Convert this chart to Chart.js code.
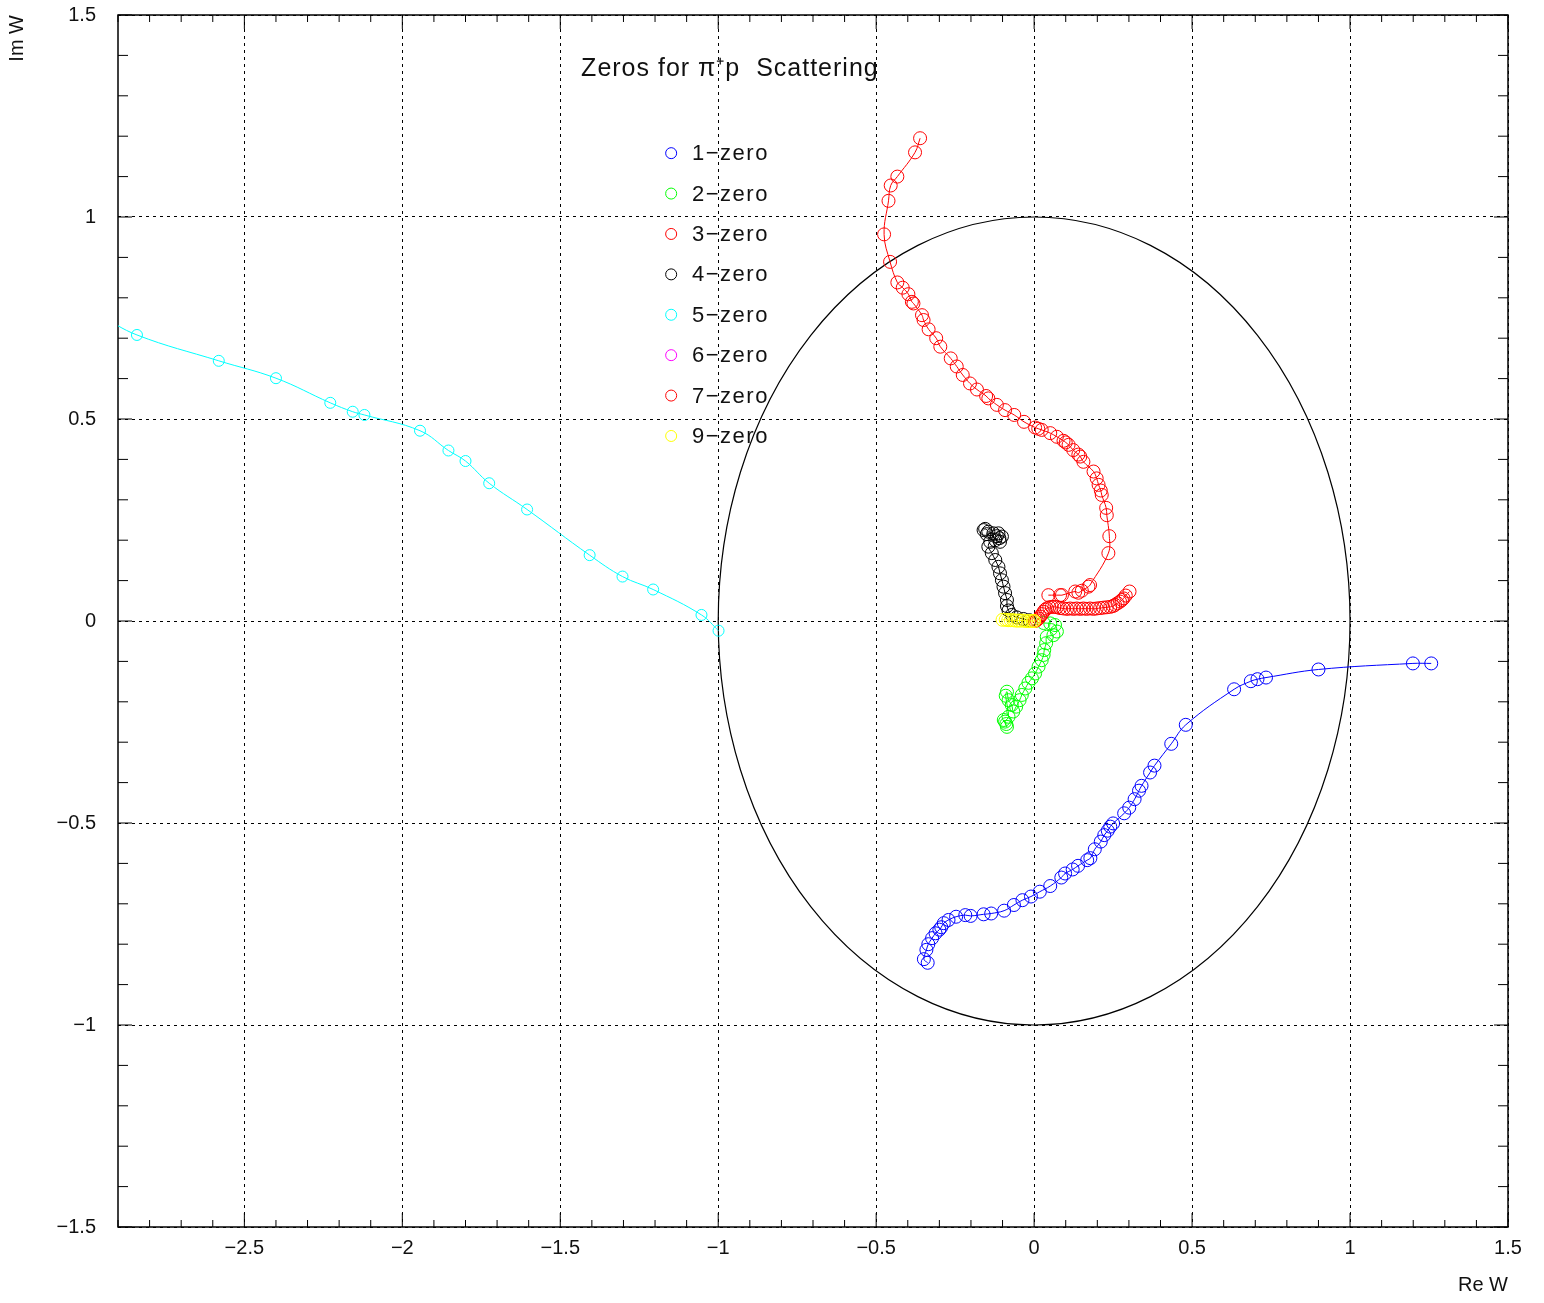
<!DOCTYPE html>
<html>
<head>
<meta charset="utf-8">
<title>Zeros for π⁺p Scattering</title>
<script src="https://cdn.jsdelivr.net/npm/chart.js@4.4.1/dist/chart.umd.min.js"></script>
<style>
  html, body { margin: 0; padding: 0; background: #fff; }
  canvas { display: block; }
</style>
</head>
<body>
<canvas id="zerosChart" width="1544" height="1303"></canvas>
<script>
// axis ranges and tick values
const xMin = -2.9, xMax = 1.5;
const yMin = -1.5, yMax = 1.5;
const xTicks = [-2.5, -2, -1.5, -1, -0.5, 0, 0.5, 1, 1.5];
const yTicks = [-1.5, -1, -0.5, 0, 0.5, 1, 1.5];
const minorStep = 0.1;

// zero trajectories, [Re W, Im W]
const zero1 = [[-0.337,-0.846],[-0.349,-0.837],[-0.341,-0.814],[-0.335,-0.800],[-0.323,-0.785],[-0.312,-0.773],[-0.300,-0.764],[-0.294,-0.758],[-0.286,-0.748],[-0.271,-0.740],[-0.247,-0.732],[-0.218,-0.728],[-0.201,-0.730],[-0.160,-0.726],[-0.136,-0.724],[-0.095,-0.717],[-0.064,-0.703],[-0.037,-0.691],[-0.010,-0.682],[0.018,-0.670],[0.051,-0.656],[0.086,-0.635],[0.098,-0.625],[0.122,-0.615],[0.139,-0.606],[0.168,-0.592],[0.178,-0.587],[0.192,-0.565],[0.211,-0.546],[0.222,-0.530],[0.233,-0.519],[0.241,-0.509],[0.250,-0.501],[0.285,-0.476],[0.301,-0.462],[0.318,-0.441],[0.332,-0.420],[0.340,-0.408],[0.367,-0.375],[0.381,-0.358],[0.434,-0.304],[0.480,-0.257],[0.633,-0.169],[0.686,-0.149],[0.707,-0.144],[0.734,-0.140],[0.900,-0.120],[1.199,-0.105],[1.257,-0.105]];
const zero2 = [[0.030,-0.005],[0.051,-0.006],[0.066,-0.010],[0.072,-0.026],[0.061,-0.035],[0.040,-0.039],[0.038,-0.055],[0.032,-0.072],[0.030,-0.084],[0.024,-0.097],[0.014,-0.113],[0.003,-0.130],[-0.007,-0.142],[-0.018,-0.153],[-0.028,-0.167],[-0.039,-0.183],[-0.046,-0.196],[-0.057,-0.212],[-0.066,-0.224],[-0.071,-0.208],[-0.081,-0.196],[-0.086,-0.175],[-0.090,-0.185],[-0.081,-0.237],[-0.092,-0.249],[-0.086,-0.262],[-0.096,-0.245],[-0.088,-0.255]];
const zero3 = [[-0.361,1.195],[-0.377,1.160],[-0.433,1.100],[-0.454,1.078],[-0.461,1.040],[-0.475,0.957],[-0.456,0.889],[-0.433,0.838],[-0.416,0.825],[-0.398,0.809],[-0.387,0.790],[-0.382,0.786],[-0.355,0.757],[-0.350,0.745],[-0.334,0.722],[-0.310,0.700],[-0.297,0.679],[-0.264,0.650],[-0.245,0.630],[-0.226,0.609],[-0.203,0.588],[-0.181,0.573],[-0.152,0.557],[-0.145,0.551],[-0.118,0.535],[-0.092,0.522],[-0.063,0.510],[-0.032,0.493],[0.003,0.479],[0.013,0.476],[0.024,0.473],[0.051,0.465],[0.072,0.456],[0.093,0.446],[0.100,0.442],[0.109,0.436],[0.124,0.423],[0.140,0.412],[0.146,0.407],[0.156,0.394],[0.188,0.370],[0.198,0.353],[0.204,0.337],[0.211,0.323],[0.214,0.312],[0.228,0.280],[0.230,0.262],[0.238,0.210],[0.235,0.168],[0.177,0.089],[0.172,0.085],[0.151,0.075],[0.140,0.070],[0.130,0.073],[0.088,0.064],[0.082,0.064],[0.045,0.064]];
const zero4 = [[-0.160,0.225],[-0.155,0.228],[-0.145,0.221],[-0.150,0.215],[-0.129,0.217],[-0.118,0.210],[-0.113,0.217],[-0.102,0.209],[-0.110,0.205],[-0.108,0.196],[-0.123,0.200],[-0.139,0.196],[-0.145,0.184],[-0.134,0.168],[-0.123,0.151],[-0.113,0.134],[-0.108,0.118],[-0.102,0.101],[-0.097,0.085],[-0.092,0.069],[-0.086,0.052],[-0.086,0.037],[-0.081,0.026],[-0.071,0.015],[-0.055,0.009],[-0.034,0.005],[-0.015,0.002]];
const zero5 = [[-2.960,0.758],[-2.840,0.708],[-2.581,0.644],[-2.400,0.601],[-2.228,0.540],[-2.157,0.518],[-2.120,0.510],[-1.944,0.471],[-1.854,0.422],[-1.800,0.396],[-1.725,0.341],[-1.605,0.276],[-1.407,0.163],[-1.303,0.110],[-1.206,0.078],[-1.053,0.015],[-0.999,-0.024]];
const zero6 = [];
const zero7 = [[0.003,0.000],[0.008,0.002],[0.014,0.006],[0.019,0.011],[0.025,0.017],[0.030,0.023],[0.035,0.028],[0.040,0.031],[0.048,0.034],[0.056,0.035],[0.064,0.035],[0.072,0.034],[0.082,0.032],[0.093,0.031],[0.104,0.030],[0.114,0.031],[0.125,0.030],[0.135,0.031],[0.146,0.030],[0.156,0.031],[0.166,0.030],[0.177,0.031],[0.188,0.030],[0.198,0.031],[0.209,0.032],[0.219,0.033],[0.230,0.034],[0.241,0.035],[0.250,0.037],[0.256,0.040],[0.264,0.044],[0.272,0.048],[0.278,0.052],[0.283,0.056],[0.290,0.063],[0.302,0.073]];
const zero9 = [[-0.100,0.003],[-0.090,0.003],[-0.082,0.002],[-0.074,0.002],[-0.066,0.002],[-0.058,0.001],[-0.050,0.001],[-0.042,0.001],[-0.034,0.001],[-0.026,0.000],[-0.018,0.000],[-0.010,0.000],[-0.004,0.000],[0.000,0.000]];

const seriesNames = ['1−zero', '2−zero', '3−zero', '4−zero', '5−zero', '6−zero', '7−zero', '9−zero'];
const seriesColors = ['#0000ff', '#00ff00', '#ff0000', '#000000', '#00ffff', '#ff00ff', '#ff0000', '#ffff00'];
const seriesData = [zero1, zero2, zero3, zero4, zero5, zero6, zero7, zero9];

const FONT = '"Liberation Sans", Arial, Helvetica, sans-serif';
const fmtTick = v => String(v).replace('-', '\u2212');

// frame, inner ticks, unit circle, title and legend
const decorations = {
  id: 'decorations',
  beforeDatasetsDraw(chart) {
    const { ctx, chartArea: a, scales: { x, y } } = chart;
    ctx.save();
    // unit circle |W| = 1
    ctx.strokeStyle = '#000';
    ctx.lineWidth = 1.2;
    ctx.beginPath();
    ctx.ellipse(x.getPixelForValue(0), y.getPixelForValue(0),
      x.getPixelForValue(1) - x.getPixelForValue(0),
      y.getPixelForValue(-1) - y.getPixelForValue(0), 0, 0, Math.PI * 2);
    ctx.stroke();

    // tick marks drawn inside the frame on every side
    ctx.lineWidth = 1;
    ctx.beginPath();
    for (let k = Math.ceil(xMin / minorStep - 1e-9); k * minorStep <= xMax + 1e-9; k++) {
      const v = k * minorStep;
      const major = Math.abs(v / 0.5 - Math.round(v / 0.5)) < 1e-6;
      const len = major ? 14 : 7;
      const px = x.getPixelForValue(v);
      ctx.moveTo(px, a.bottom); ctx.lineTo(px, a.bottom - len);
      ctx.moveTo(px, a.top); ctx.lineTo(px, a.top + len);
    }
    for (let k = Math.ceil(yMin / minorStep - 1e-9); k * minorStep <= yMax + 1e-9; k++) {
      const v = k * minorStep;
      const major = Math.abs(v / 0.5 - Math.round(v / 0.5)) < 1e-6;
      const len = major ? 14 : 10;
      const py = y.getPixelForValue(v);
      ctx.moveTo(a.left, py); ctx.lineTo(a.left + len, py);
      ctx.moveTo(a.right, py); ctx.lineTo(a.right - len, py);
    }
    ctx.stroke();

    ctx.lineWidth = 1.5;
    ctx.strokeRect(a.left, a.top, a.right - a.left, a.bottom - a.top);
    ctx.restore();
  },
  afterDatasetsDraw(chart) {
    const { ctx, scales: { x, y } } = chart;
    ctx.save();
    ctx.fillStyle = '#111';
    ctx.textBaseline = 'middle';
    ctx.textAlign = 'left';
    ctx.font = '25px ' + FONT;
    ctx.letterSpacing = '1px';
    ctx.fillText('Zeros for π⁺p  Scattering', x.getPixelForValue(-1.434), y.getPixelForValue(1.366));

    // legend
    ctx.font = '22px ' + FONT;
    ctx.letterSpacing = '1.5px';
    seriesNames.forEach((name, i) => {
      const py = y.getPixelForValue(1.158 - i * 0.1);
      ctx.strokeStyle = seriesColors[i];
      ctx.lineWidth = 1;
      ctx.beginPath();
      ctx.arc(x.getPixelForValue(-1.149), py, 5.5, 0, Math.PI * 2);
      ctx.stroke();
      ctx.fillStyle = '#111';
      ctx.fillText(name, x.getPixelForValue(-1.083), py + 1);
    });
    ctx.restore();
  }
};

const datasets = seriesData.map((pts, i) => ({
  label: seriesNames[i],
  data: pts.map(([re, im]) => ({ x: re, y: im })),
  showLine: true,
  borderColor: seriesColors[i],
  borderWidth: 1,
  tension: 0.4,
  pointStyle: 'circle',
  pointRadius: i === 4 ? 5.5 : 6.5,
  pointBorderWidth: 1,
  pointBorderColor: seriesColors[i],
  pointBackgroundColor: 'rgba(0,0,0,0)',
  clip: 0,
  order: seriesData.length - i
}));

new Chart(document.getElementById('zerosChart'), {
  type: 'scatter',
  data: { datasets },
  options: {
    responsive: false,
    animation: false,
    events: [],
    layout: { padding: { left: 0, top: 15, right: 36, bottom: 0 } },
    plugins: { legend: { display: false }, tooltip: { enabled: false } },
    scales: {
      x: {
        type: 'linear', min: xMin, max: xMax,
        afterBuildTicks: s => { s.ticks = xTicks.map(v => ({ value: v })); },
        afterFit: s => { s.height = 76; s.paddingLeft = 0; s.paddingRight = 0; },
        grid: { color: '#000', lineWidth: 1, drawTicks: false },
        border: { display: false, dash: [3, 4] },
        ticks: { callback: fmtTick, color: '#111', font: { family: FONT, size: 20 }, padding: 9, autoSkip: false, maxRotation: 0 },
        title: { display: true, text: 'Re W', align: 'end', color: '#111', font: { family: FONT, size: 20 }, padding: { top: 0, bottom: 6 } }
      },
      y: {
        type: 'linear', min: yMin, max: yMax,
        afterBuildTicks: s => { s.ticks = yTicks.map(v => ({ value: v })); },
        afterFit: s => { s.width = 118; s.paddingTop = 0; s.paddingBottom = 0; },
        grid: { color: '#000', lineWidth: 1, drawTicks: false },
        border: { display: false, dash: [3, 4] },
        ticks: { callback: fmtTick, color: '#111', font: { family: FONT, size: 20 }, padding: 22, autoSkip: false },
        title: { display: true, text: 'Im W', align: 'end', color: '#111', font: { family: FONT, size: 20 }, padding: { top: 5, bottom: 0 } }
      }
    }
  },
  plugins: [decorations]
});
</script>
</body>
</html>
